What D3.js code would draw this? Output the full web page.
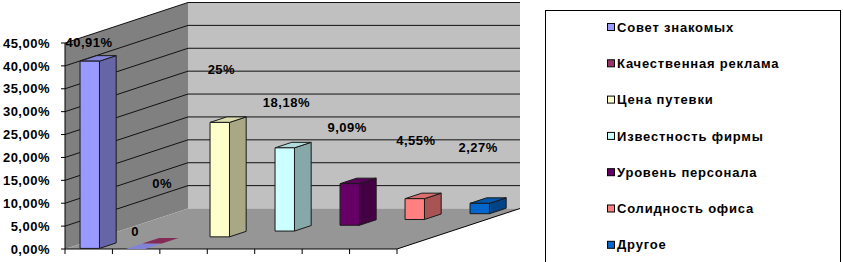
<!DOCTYPE html>
<html lang="ru">
<head>
  <meta charset="UTF-8">
  <title>3D column chart</title>
  <script src="https://d3js.org/d3.v7.min.js"></script>
  <style>
    body { margin: 0; background: #fff; }
    svg { display: block; }
    text { font-family: "Liberation Sans", Arial, sans-serif; font-weight: bold; font-size: 13px; fill: #000; }
  </style>
</head>
<body>
<script>
  // data
  const seriesNames = ["Совет знакомых", "Качественная реклама", "Цена путевки",
    "Известность фирмы", "Уровень персонала", "Солидность офиса", "Другое"];
  const values = [40.91, 0, 25, 18.18, 9.09, 4.55, 2.27];
  const valueLabels = ["40,91%", "0", "25%", "18,18%", "9,09%", "4,55%", "2,27%"];
  const yTicks = [0, 5, 10, 15, 20, 25, 30, 35, 40, 45];
  const yTickLabels = ["0,00%", "5,00%", "10,00%", "15,00%", "20,00%", "25,00%", "30,00%", "35,00%", "40,00%", "45,00%"];
  const colors = ["#9999FF", "#993366", "#FFFFCC", "#CCFFFF", "#660066", "#FF8080", "#0066CC"];

  // where the (hand placed) data labels sit: category position and value level
  const labelCat = [0.47, 1.07, 2.52, 3.52, 4.43, 5.51, 6.45];
  const labelLevel = [45, 2.5, 36.5, 28.2, 21.3, 17.2, 14.5];

  const W = 843, H = 262;
  const svg = d3.select("body").append("svg")
    .attr("width", W)
    .attr("height", H);

  const n = values.length;
  const x = d3.scaleLinear().domain([0, n]).range([65, 397]);
  const y = d3.scaleLinear().domain([0, 45]).range([249, 43]);
  const depthX = d3.scaleLinear().domain([0, n]).range([0, 123]);
  const depthY = d3.scaleLinear().domain([0, n]).range([0, -40.5]);

  // project category / depth / value to screen
  function proj(c, d, v) {
    return [x(c) + depthX(d), y(v) + depthY(d)];
  }
  function poly(pts) {
    return "M" + pts.map(p => p[0].toFixed(2) + "," + p[1].toFixed(2)).join("L") + "Z";
  }
  function shade(col, k) {
    const c = d3.rgb(col);
    return d3.rgb(c.r * k, c.g * k, c.b * k).formatHex();
  }

  const yMax = d3.max(yTicks);

  // walls and floor
  svg.append("path")
    .attr("d", poly([proj(0, 0, 0), proj(0, n, 0), proj(0, n, yMax), proj(0, 0, yMax)]))
    .attr("fill", "#808080");
  svg.append("path")
    .attr("d", poly([proj(0, n, 0), proj(n, n, 0), proj(n, n, yMax), proj(0, n, yMax)]))
    .attr("fill", "#C0C0C0");

  // gridlines on the walls
  yTicks.filter(v => v > 0).forEach(v => {
    svg.append("path")
      .attr("d", "M" + proj(0, 0, v) + "L" + proj(0, n, v) + "L" + proj(n, n, v))
      .attr("fill", "none")
      .attr("stroke", "#111")
      .attr("stroke-width", 1);
  });

  svg.append("path")
    .attr("d", poly([proj(0, 0, 0), proj(n, 0, 0), proj(n, n, 0), proj(0, n, 0)]))
    .attr("fill", "#969696");
  svg.append("path")
    .attr("d", "M" + proj(0, 0, 0) + "L" + proj(n, 0, 0) + "L" + proj(n, n, 0))
    .attr("fill", "none")
    .attr("stroke", "#000")
    .attr("stroke-width", 1);

  // value axis
  svg.append("line")
    .attr("x1", x(0)).attr("x2", x(0))
    .attr("y1", y(0)).attr("y2", y(yMax))
    .attr("stroke", "#000");
  yTicks.forEach((v, i) => {
    svg.append("line")
      .attr("x1", x(0) - 4).attr("x2", x(0))
      .attr("y1", y(v)).attr("y2", y(v))
      .attr("stroke", "#000");
    svg.append("text")
      .attr("x", 50)
      .attr("y", y(v))
      .attr("dy", "0.36em")
      .attr("text-anchor", "end")
      .style("letter-spacing", "0.5px")
      .text(yTickLabels[i]);
  });

  // category axis ticks
  d3.range(n + 1).forEach(k => {
    svg.append("line")
      .attr("x1", x(k)).attr("x2", x(k))
      .attr("y1", y(0)).attr("y2", y(0) + 5)
      .attr("stroke", "#000");
  });

  // bars, back to front
  const bars = svg.append("g");
  d3.range(n).reverse().forEach(i => {
    const v = values[i];
    const c0 = i + 0.28, c1 = i + 0.69;
    const d0 = i + 0.1, d1 = i + 1.05;
    const col = colors[i];
    const g = bars.append("g")
      .attr("stroke", "#1a1a1a")
      .attr("stroke-width", 1)
      .attr("stroke-linejoin", "round");
    if (v === 0) {
      // flat (zero) column
      g.append("path")
        .attr("d", poly([proj(c0, 0, 0), proj(c1, 0, 0), proj(c1, 0.95, 0), proj(c0, 0.95, 0)]))
        .attr("fill", shade(colors[0], 0.85))
        .attr("stroke", "none");
      g.append("path")
        .attr("d", poly([proj(c0, 0.95, 0), proj(c1, 0.95, 0), proj(c1, 1.9, 0), proj(c0, 1.9, 0)]))
        .attr("fill", shade(col, 0.85))
        .attr("stroke", "none");
      return;
    }
    g.append("path")
      .attr("d", poly([proj(c1, d0, 0), proj(c1, d1, 0), proj(c1, d1, v), proj(c1, d0, v)]))
      .attr("fill", shade(col, 0.66));
    g.append("path")
      .attr("d", poly([proj(c0, d0, v), proj(c1, d0, v), proj(c1, d1, v), proj(c0, d1, v)]))
      .attr("fill", shade(col, 0.86));
    g.append("path")
      .attr("d", poly([proj(c0, d0, 0), proj(c1, d0, 0), proj(c1, d0, v), proj(c0, d0, v)]))
      .attr("fill", col);
  });

  // data labels
  valueLabels.forEach((t, i) => {
    const p = proj(labelCat[i], i + 0.1, labelLevel[i]);
    svg.append("text")
      .attr("x", p[0])
      .attr("y", p[1])
      .attr("dy", "0.36em")
      .attr("text-anchor", "middle")
      .style("letter-spacing", "0.5px")
      .text(t);
  });
  // stray "0%" label of the second series
  const p0 = proj(1.64, 1.1, 13);
  svg.append("text")
    .attr("x", p0[0]).attr("y", p0[1])
    .attr("dy", "0.36em")
    .attr("text-anchor", "middle")
    .style("letter-spacing", "0.5px")
    .text("0%");

  // legend
  svg.append("rect")
    .attr("x", 545.5).attr("y", 10.5)
    .attr("width", 295).attr("height", 270)
    .attr("fill", "#fff")
    .attr("stroke", "#000");
  const legend = svg.append("g");
  seriesNames.forEach((s, i) => {
    const ly = 27 + i * 36.3;
    legend.append("rect")
      .attr("x", 607.5).attr("y", ly - 3.5)
      .attr("width", 7).attr("height", 7)
      .attr("fill", colors[i])
      .attr("stroke", "#000");
    legend.append("text")
      .attr("x", 617)
      .attr("y", ly)
      .attr("dy", "0.36em")
      .style("letter-spacing", "0.8px")
      .text(s);
  });
</script>
</body>
</html>
